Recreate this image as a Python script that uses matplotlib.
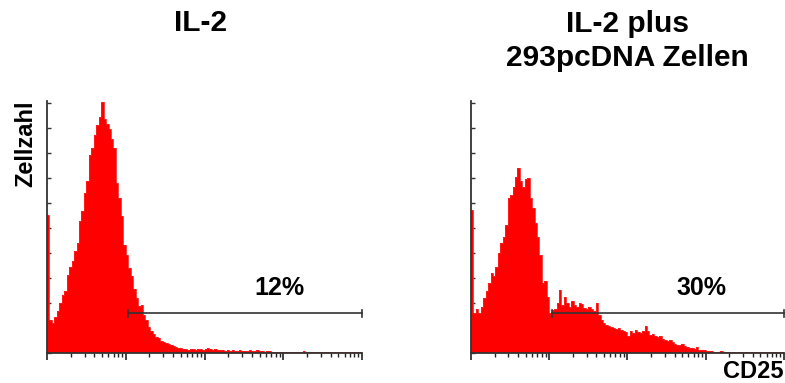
import numpy as np
import matplotlib
matplotlib.use('Agg')
import matplotlib.pyplot as plt

plt.rcParams['font.family'] = ['Liberation Sans', 'DejaVu Sans']
plt.rcParams['font.weight'] = 'bold'

# 128 channels over 4 log decades (10^0 .. 10^4)
il2_counts = [138, 33, 30, 36, 42, 50, 58, 62, 78, 86, 92, 102, 110, 132, 142, 160,
              172, 198, 205, 218, 228, 236, 251, 234, 229, 224, 214, 205, 170, 155, 137, 108,
              98, 85, 77, 64, 55, 47, 48, 38, 33, 26, 22, 19, 16, 15, 12, 11,
              10, 9, 8, 7, 6, 5, 5, 4, 4, 3, 4, 4, 3, 4, 4, 3,
              4, 5, 4, 3, 4, 3, 3, 3, 2, 3, 2, 3, 2, 2, 3, 2,
              2, 2, 3, 2, 2, 3, 2, 2, 1, 2, 2, 1, 1, 1, 1, 1,
              1, 1, 1, 1, 1, 1, 1, 1, 2, 1, 1, 1, 1, 1, 1, 1,
              1, 1, 1, 1, 1, 1, 1, 1, 1, 1, 1, 1, 1, 1, 1, 1]

pcdna_counts = [143, 40, 44, 40, 46, 55, 62, 70, 80, 77, 86, 100, 110, 116, 128, 155,
                158, 166, 176, 185, 172, 166, 174, 175, 155, 145, 130, 116, 98, 70, 72, 56,
                40, 43, 44, 50, 63, 48, 56, 50, 46, 52, 48, 46, 50, 49, 45, 44,
                46, 44, 42, 50, 38, 33, 30, 28, 27, 26, 25, 24, 25, 23, 22, 21,
                17, 22, 20, 23, 21, 20, 22, 27, 22, 18, 19, 17, 16, 17, 14, 13,
                12, 13, 11, 9, 8, 8, 9, 7, 6, 5, 5, 4, 6, 3, 3, 3,
                2, 2, 2, 1, 1, 1, 2, 1, 1, 1, 1, 1, 1, 1, 1, 1,
                1, 1, 1, 1, 1, 1, 1, 1, 1, 1, 1, 1, 1, 1, 1, 1]

titles = ['IL-2', 'IL-2 plus\n293pcDNA Zellen']
gate_start = [10 ** 1.03, 10 ** 1.04]
gate_labels = ['12%', '30%']

edges = np.logspace(0, 4, 129)

fig = plt.figure(figsize=(7.85, 3.83), dpi=100)
axes = [fig.add_axes([0.0599, 0.0783, 0.4013, 0.658]),
        fig.add_axes([0.6, 0.0783, 0.3987, 0.658])]

for ax, counts, title, g0, glab in zip(axes, [il2_counts, pcdna_counts], titles, gate_start, gate_labels):
    ax.stairs(counts, edges, fill=True, color='#ff0000', lw=0, zorder=2)
    ax.stairs(counts, edges, color='#ff2020', lw=0.6, zorder=2)
    ax.set_xscale('log')
    ax.set_xlim(1, 1e4)
    ax.set_ylim(0, 252)
    ax.spines['top'].set_visible(False)
    ax.spines['right'].set_visible(False)
    for s in ['left', 'bottom']:
        ax.spines[s].set_color('#333333')
        ax.spines[s].set_linewidth(1.3)
    ax.set_yticks(np.arange(0, 251, 25))
    ax.set_yticklabels([])
    ax.tick_params(axis='y', direction='in', length=3, width=1, color='#333333')
    ax.xaxis.set_major_locator(matplotlib.ticker.LogLocator(base=10, numticks=10))
    ax.xaxis.set_minor_locator(matplotlib.ticker.LogLocator(base=10, subs=np.arange(2, 10), numticks=10))
    ax.xaxis.set_minor_formatter(matplotlib.ticker.NullFormatter())
    ax.set_xticklabels([])
    ax.tick_params(axis='x', which='major', direction='out', length=5, width=1.2, color='#222222')
    ax.tick_params(axis='x', which='minor', direction='out', length=3, width=1, color='#222222')
    # gate marker
    ax.plot([g0, 1e4], [40, 40], color='#333333', lw=1.2, zorder=3, clip_on=False)
    ax.plot([g0, g0], [36.5, 43.5], color='#333333', lw=1.2, zorder=3, clip_on=False)
    ax.plot([1e4, 1e4], [36.5, 43.5], color='#333333', lw=1.2, zorder=3, clip_on=False)
    ax.text(10 ** 2.95, 65, glab, ha='center', va='center', fontsize=18, fontweight='bold')

fig.text(201 / 785, 1 - 23 / 383, titles[0], ha='center', va='center', fontsize=21.5, fontweight='bold')
fig.text(627 / 785, 1 - 41 / 383, titles[1], ha='center', va='center', fontsize=21.5,
         fontweight='bold', linespacing=1.3)
fig.text(26 / 785, 1 - 144 / 383, 'Zellzahl', rotation=90, ha='center', va='center',
         fontsize=17, fontweight='bold')
fig.text(783 / 785, 1 - 371 / 383, 'CD25', ha='right', va='center', fontsize=17, fontweight='bold')

fig.savefig('out.png', dpi=100)
